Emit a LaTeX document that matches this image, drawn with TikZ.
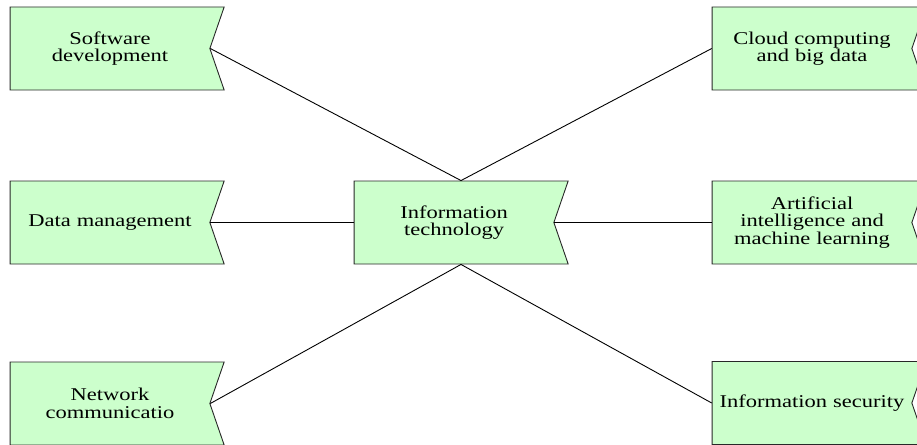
\documentclass[tikz,border=0pt]{standalone}
\usepackage{fontspec}
\setmainfont{Liberation Serif}[FakeStretch=1.25]
\usetikzlibrary{shapes.symbols}

\definecolor{topicfill}{RGB}{204,255,204}
\definecolor{topicline}{RGB}{40,40,40}

\tikzset{
  topic/.style={signal, signal to=nowhere, signal from=east,
    signal pointer angle=142, draw=topicline, fill=topicfill,
    line width=0.9pt, minimum width=214, minimum height=83,
    inner sep=0pt, align=center, text width=190,
    font=\fontsize{18}{17.5}\selectfont},
  link/.style={draw=black, line width=0.9pt}
}

\begin{document}
\begin{tikzpicture}[x=1pt,y=-1pt]
  \useasboundingbox (0,0) rectangle (917,444);
  \clip (0,0) rectangle (917,444);
  \node[topic] (it) at (454,222.5) {Information\\technology};
  \node[topic] (soft) at (110,48.5) {Software\\development};
  \node[topic] (data) at (110,222.5) {Data management};
  \node[topic] (net) at (110,403.5) {Network\\communicatio};
  \node[topic] (cloud) at (812,48.5) {Cloud computing\\and big data};
  \node[topic] (ai) at (812,222.5) {Artificial\\intelligence and\\machine learning};
  \node[topic] (sec) at (812,403) {Information security};
  % top and bottom joints sit mid-way along the whole box
  \coordinate (top) at ([xshift=7pt]it.north);
  \coordinate (bottom) at ([xshift=7pt]it.south);
  \begin{scope}[link]
    \draw (soft.east) -- (top);
    \draw (cloud.west) -- (top);
    \draw (data.east) -- (it.west);
    \draw (it.east) -- (ai.west);
    \draw (net.east) -- (bottom);
    \draw (bottom) -- (sec.west);
  \end{scope}
\end{tikzpicture}
\end{document}
